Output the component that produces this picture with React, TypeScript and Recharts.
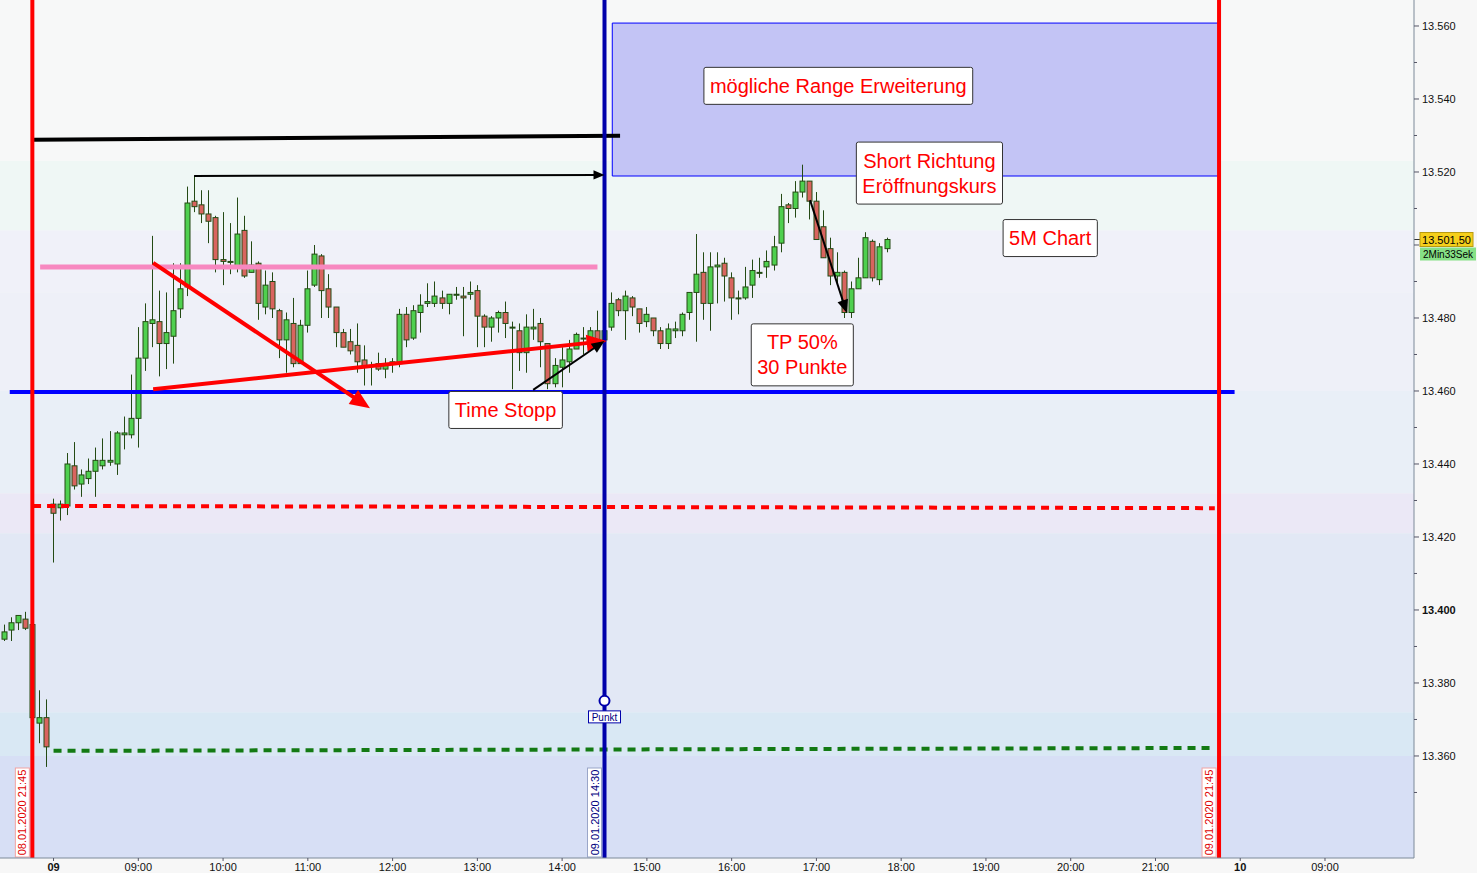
import React from "react";
import { Bar, ComposedChart, ReferenceArea, ReferenceDot, ReferenceLine, XAxis, YAxis } from "recharts";

// 5-minute slots, 0 = 08:00 on 09.01.2020 (night session hidden, 21:45 of day before = -3)
const firstSlot = -7;

const opens = [
  13392, 13394.5, 13396.5, 13397.5, 13396, 13369, 13370.5,
  13429, 13428, 13428.5, 13439.5, 13434.5, 13436, 13438, 13439.5, 13440.5, 13440, 13448, 13448,
  13452.5, 13469, 13478.5, 13479, 13473, 13475, 13482.5, 13488.5, 13512, 13511, 13508.5, 13507.5,
  13496, 13495.5, 13494, 13504, 13492.5, 13495, 13483, 13490, 13482, 13474, 13478.5, 13467.5,
  13478, 13489, 13497, 13488, 13483, 13476, 13473.5, 13472.5, 13468.5, 13467, 13467.5, 13466,
  13467.5, 13467.5, 13481, 13474.5, 13481.5, 13484, 13484, 13485.5, 13484, 13486.5, 13486, 13486.5,
  13487.5, 13480.5, 13477.5, 13480, 13481.5, 13477.5, 13476.5, 13470.5, 13477, 13478.5, 13473, 13462,
  13466.5, 13468, 13471.5, 13474.5, 13474, 13476.5, 13474, 13477.5, 13485, 13482, 13485.5, 13482.5,
  13479, 13480, 13476.5, 13473, 13476.5, 13476.5, 13481.5, 13487, 13492.5, 13484, 13494, 13495,
  13491, 13485.5, 13485.5, 13489, 13492.5, 13494, 13494.5, 13500.5, 13511, 13510, 13514.5, 13517.5,
  13512, 13505, 13499, 13491.5, 13492.5, 13481.5, 13488, 13491, 13501, 13490.5, 13499,
];

const highs = [
  13396, 13398, 13398.5, 13399.5, 13396, 13378, 13375.5,
  13430.5, 13430, 13443, 13446, 13438.5, 13441.5, 13444.5, 13447, 13449, 13449, 13453, 13464.5,
  13477.5, 13484, 13502.5, 13487.5, 13487, 13495, 13495, 13516, 13519, 13515, 13515, 13508,
  13509, 13506, 13513, 13508, 13501, 13495.5, 13493, 13492.5, 13482.5, 13481.5, 13485.5, 13479.5,
  13493, 13500, 13497.5, 13492, 13483, 13477, 13477, 13478.5, 13472.5, 13468, 13470.5, 13469,
  13469, 13482.5, 13483, 13483.5, 13486.5, 13489.5, 13490, 13487.5, 13486.5, 13488.5, 13488.5, 13490,
  13489, 13481, 13480.5, 13482, 13484.5, 13479, 13478.5, 13481, 13482.5, 13480, 13473, 13469,
  13472, 13474, 13476, 13477.5, 13477.5, 13482, 13477.5, 13487, 13485.5, 13487.5, 13486, 13482.5,
  13483, 13480, 13477.5, 13478.5, 13479, 13481.5, 13487, 13503, 13498, 13498, 13498, 13496.5,
  13492.5, 13487.5, 13494, 13496, 13496.5, 13498.5, 13502.5, 13514, 13511.5, 13517.5, 13522, 13517.5,
  13514.5, 13509.5, 13502, 13498, 13493, 13490, 13496.5, 13503.5, 13501.5, 13500.5, 13502,
];

const lows = [
  13391.5, 13391.5, 13394.5, 13394.5, 13370, 13363.5, 13357,
  13413, 13424.5, 13426, 13433, 13431, 13434.5, 13431, 13438.5, 13439.5, 13437, 13444, 13447,
  13444.5, 13465.5, 13472, 13464, 13466, 13467.5, 13480, 13486, 13509, 13506, 13500.5, 13492.5,
  13489, 13492, 13492.5, 13491, 13492.5, 13479.5, 13481, 13480, 13469, 13465, 13466.5, 13467.5,
  13476, 13488.5, 13480, 13480, 13472, 13472, 13470, 13465, 13461.5, 13461.5, 13465.5, 13463.5,
  13465, 13466.5, 13472, 13474, 13476, 13483, 13483, 13482.5, 13481, 13485, 13475, 13485,
  13472, 13472, 13473.5, 13476, 13474.5, 13460.5, 13465.5, 13465, 13474, 13466.5, 13460.5, 13461,
  13461, 13465, 13471.5, 13470, 13473, 13473.5, 13473.5, 13476.5, 13480.5, 13474, 13480.5, 13476,
  13477.5, 13475, 13471.5, 13471.5, 13474.5, 13475, 13479.5, 13473.5, 13479.5, 13476.5, 13484, 13484.5,
  13479.5, 13481, 13485, 13485.5, 13491, 13491, 13493, 13498, 13506, 13507.5, 13513, 13507,
  13501.5, 13496.5, 13489, 13489, 13480, 13480, 13488, 13491, 13490, 13489, 13498,
];

const closes = [
  13394, 13396.5, 13398.5, 13395, 13370.5, 13370.5, 13362.5,
  13426.5, 13429, 13440, 13434, 13437, 13438, 13441, 13441, 13441, 13448.5, 13448.5, 13452.5,
  13469, 13479, 13479.5, 13473, 13476, 13482, 13488, 13511.5, 13510.5, 13508.5, 13506.5, 13496,
  13495.5, 13495.5, 13503, 13491.5, 13494.5, 13484, 13489, 13482.5, 13474, 13479.5, 13467.5, 13478,
  13488, 13497.5, 13487.5, 13483, 13476, 13472, 13471, 13468, 13466.5, 13467, 13466, 13467.5,
  13468, 13481, 13474, 13482, 13483.5, 13484.5, 13486, 13484, 13486.5, 13486.5, 13485.5, 13487,
  13480.5, 13477.5, 13480, 13481.5, 13478.5, 13477.5, 13470.5, 13477.5, 13477.5, 13473.5, 13462, 13467,
  13468.5, 13471.5, 13475.5, 13474.5, 13476.5, 13473.5, 13476.5, 13484, 13482, 13486, 13483, 13478.5,
  13481, 13476.5, 13473, 13477, 13477, 13481, 13487, 13492, 13484, 13494, 13494.5, 13491.5,
  13485.5, 13485.5, 13488.5, 13493, 13492.5, 13495.5, 13499.5, 13510.5, 13510, 13514.5, 13517.5, 13512,
  13501.5, 13496.5, 13491.5, 13492.5, 13481.5, 13488, 13491, 13502, 13491, 13499.5, 13501.5,
];

const xTicks = [0, 12, 24, 36, 48, 60, 72, 84, 96, 108, 120, 132, 144, 156, 168, 180];
const xTickLabels = ["09", "09:00", "10:00", "11:00", "12:00", "13:00", "14:00", "15:00", "16:00", "17:00", "18:00", "19:00", "20:00", "21:00", "10", "09:00"];
const dayStartTicks = [0, 168];

const yTicks = [13350, 13360, 13370, 13380, 13390, 13400, 13410, 13420, 13430, 13440, 13450, 13460, 13470, 13480, 13490, 13500, 13510, 13520, 13530, 13540, 13550, 13560];

const sessionMarks = [
  { slot: -3, label: "08.01.2020 21:45", kind: "red" },
  { slot: 78, label: "09.01.2020 14:30", kind: "blue" },
  { slot: 165, label: "09.01.2020 21:45", kind: "red" },
];

const notes = [
  { slot: 111.1, price: 13543.6, lines: ["mögliche Range Erweiterung"] },
  { slot: 124.0, price: 13519.7, lines: ["Short Richtung", "Eröffnungskurs"] },
  { slot: 141.1, price: 13501.9, lines: ["5M Chart"] },
  { slot: 106.0, price: 13469.9, lines: ["TP 50%", "30 Punkte"] },
  { slot: 64.0, price: 13454.8, lines: ["Time Stopp"] },
];

const punkt = { slot: 78, price: 13375.1, label: "Punkt" };

const countdown = "2Min33Sek";
const lastPrice = closes[closes.length - 1];

const rows = opens.map((o, i) => ({
  slot: firstSlot + i,
  open: o,
  high: highs[i],
  low: lows[i],
  close: closes[i],
  range: [lows[i], highs[i]],
}));

const X_DOMAIN = [-7.58, 192.6];
const Y_DOMAIN = [13332.05, 13567.12];
const FONT = "'Liberation Sans', Arial, sans-serif";

const bands = [
  { y1: 13523, y2: 13567.12, fill: "#f7f8f8" },
  { y1: 13504, y2: 13523, fill: "#eff7f5" },
  { y1: 13487, y2: 13504, fill: "#f0f1f9" },
  { y1: 13460, y2: 13487, fill: "#eef0f8" },
  { y1: 13432, y2: 13460, fill: "#e9eff7" },
  { y1: 13421, y2: 13432, fill: "#ebe8f6" },
  { y1: 13372, y2: 13421, fill: "#e2e8f5" },
  { y1: 13360, y2: 13372, fill: "#d9e8f4" },
  { y1: 13332.05, y2: 13360, fill: "#d7dff5" },
];

let measureCtx: CanvasRenderingContext2D | null = null;
function textWidth(s: string, size: number) {
  if (!measureCtx) measureCtx = document.createElement("canvas").getContext("2d");
  if (!measureCtx) return s.length * size * 0.5;
  measureCtx.font = `${size}px 'Liberation Sans', Arial, sans-serif`;
  return measureCtx.measureText(s).width;
}

function fmtDe(v: number) {
  const [i, d] = v.toFixed(2).split(".");
  return i.slice(0, -3) + "." + i.slice(-3) + "," + d;
}

function Candle(props: any) {
  const { x, y, width, height, payload } = props;
  if (!payload || x == null) return null;
  const { open, close, high, low } = payload;
  const top = Math.min(y, y + height);
  const h = Math.abs(height);
  const pix = (v: number) => (high === low ? top : top + ((high - v) / (high - low)) * h);
  const cx = Math.floor(x + width / 2) + 0.5;
  const yo = pix(open);
  const yc = pix(close);
  const bodyTop = Math.min(yo, yc);
  const bodyH = Math.max(Math.abs(yo - yc), 1);
  const up = close >= open;
  return (
    <g>
      <line x1={cx} x2={cx} y1={top} y2={top + h} stroke="#244a14" strokeWidth={1} />
      <rect x={cx - 2.5} y={bodyTop} width={5} height={bodyH} fill={up ? "#4fd04f" : "#d9645f"} stroke="#244a14" strokeWidth={1} />
    </g>
  );
}

function arrowShape(color: string, w: number, head: number) {
  return (p: any) => {
    const { x1, y1, x2, y2 } = p;
    const ang = Math.atan2(y2 - y1, x2 - x1);
    const hw = head * 0.42;
    const bx = x2 - Math.cos(ang) * head;
    const by = y2 - Math.sin(ang) * head;
    const pts = [
      [x2, y2],
      [bx + Math.sin(ang) * hw, by - Math.cos(ang) * hw],
      [bx - Math.sin(ang) * hw, by + Math.cos(ang) * hw],
    ]
      .map((q) => q.join(","))
      .join(" ");
    return (
      <g>
        <line x1={x1} y1={y1} x2={bx + Math.cos(ang) * 2} y2={by + Math.sin(ang) * 2} stroke={color} strokeWidth={w} />
        <polygon points={pts} fill={color} />
      </g>
    );
  };
}

function sessionShape(label: string, kind: string) {
  return (p: any) => {
    const { x1, y1, y2 } = p;
    const bottom = Math.max(y1, y2);
    const top = Math.min(y1, y2);
    const red = kind === "red";
    const color = red ? "#ff0000" : "#0000aa";
    const bx = x1 - 17;
    return (
      <g>
        <line x1={x1} x2={x1} y1={top} y2={bottom} stroke={color} strokeWidth={4} />
        <rect x={bx} y={bottom - 90} width={14} height={89} fill="#ffffff" stroke={red ? "#f2a3a3" : "#9aa6c8"} strokeWidth={1} />
        <text
          x={bx + 7}
          y={bottom - 45.5}
          transform={`rotate(-90 ${bx + 7} ${bottom - 45.5})`}
          textAnchor="middle"
          dominantBaseline="central"
          fontSize={11}
          fontFamily={FONT}
          fill={red ? "#e00000" : "#000080"}
        >
          {label}
        </text>
      </g>
    );
  };
}

function NoteBox(p: any) {
  const { cx, cy, lines } = p;
  const fs = 20;
  const lh = 25;
  const w = Math.max(...lines.map((l: string) => textWidth(l, fs))) + 12;
  const h = lines.length * lh + 12;
  return (
    <g>
      <rect x={cx - w / 2} y={cy - h / 2} width={w} height={h} rx={2} fill="#ffffff" stroke="#333333" strokeWidth={1} />
      {lines.map((l: string, i: number) => (
        <text
          key={i}
          x={cx}
          y={cy - ((lines.length - 1) * lh) / 2 + i * lh}
          textAnchor="middle"
          dominantBaseline="central"
          fontSize={fs}
          fontFamily={FONT}
          fill="#ff0000"
        >
          {l}
        </text>
      ))}
    </g>
  );
}

function PunktMarker(p: any) {
  const { cx, cy } = p;
  return (
    <g>
      <rect x={cx - 16} y={cy + 10} width={32} height={12} fill="#ffffff" stroke="#0000aa" strokeWidth={1} />
      <text x={cx} y={cy + 16.5} textAnchor="middle" dominantBaseline="central" fontSize={10} fontFamily={FONT} fill="#000080">
        {punkt.label}
      </text>
      <circle cx={cx} cy={cy} r={5} fill="#ffffff" stroke="#0000aa" strokeWidth={2} />
    </g>
  );
}

function LastPriceTag(p: any) {
  const { x2, y1 } = p;
  const x = Math.max(x2, p.x1);
  return (
    <g>
      <line x1={x} x2={x + 6} y1={y1} y2={y1} stroke="#333" strokeWidth={1} />
      <rect x={x + 6} y={y1 - 7} width={53} height={14} fill="#f5cf1c" stroke="#b89a10" strokeWidth={1} />
      <text x={x + 32.5} y={y1} textAnchor="middle" dominantBaseline="central" fontSize={11} fontFamily={FONT} fill="#000">
        {fmtDe(lastPrice)}
      </text>
      <rect x={x + 6} y={y1 + 8} width={56} height={13} fill="#86e086" />
      <text x={x + 34} y={y1 + 14.5} textAnchor="middle" dominantBaseline="central" fontSize={10} fontFamily={FONT} fill="#000">
        {countdown}
      </text>
    </g>
  );
}

function XTick(p: any) {
  const { x, y, payload } = p;
  const i = xTicks.indexOf(payload.value);
  const bold = dayStartTicks.includes(payload.value);
  return (
    <g>
      <line x1={x} x2={x} y1={y} y2={y + 3} stroke="#556" strokeWidth={1} />
      <text x={x} y={y + 9} textAnchor="middle" dominantBaseline="central" fontSize={11} fontWeight={bold ? 700 : 400} fontFamily={FONT} fill="#111">
        {xTickLabels[i]}
      </text>
    </g>
  );
}

function YTick(p: any) {
  const { x, y, payload } = p;
  const v = payload.value;
  const major = v % 20 === 0;
  // the last-price tag covers the label next to it
  const covered = Math.abs(v - lastPrice) < 6;
  return (
    <g>
      <line x1={x} x2={x + (major ? 5 : 3)} y1={y} y2={y} stroke="#556" strokeWidth={1} />
      {major && !covered && (
        <text x={x + 8} y={y} dominantBaseline="central" fontSize={11} fontWeight={v === 13400 ? 700 : 400} fontFamily={FONT} fill="#111">
          {(v / 1000).toFixed(3)}
        </text>
      )}
    </g>
  );
}

export default function App() {
  return (
    <div style={{ position: "absolute", left: 0, top: 0, width: 1477, height: 873, background: "#f7f7f7", fontFamily: FONT }}>
      <ComposedChart width={1477} height={873} data={rows} margin={{ top: 0, right: 0, bottom: 0, left: 0 }}>
        <XAxis
          dataKey="slot"
          type="number"
          domain={X_DOMAIN}
          allowDataOverflow
          ticks={xTicks}
          interval={0}
          height={15}
          tickLine={false}
          tickSize={0}
          tickMargin={0}
          tick={<XTick />}
          axisLine={{ stroke: "#7d8a99" }}
        />
        <YAxis
          orientation="right"
          type="number"
          domain={Y_DOMAIN}
          allowDataOverflow
          ticks={yTicks}
          interval={0}
          width={63}
          tickLine={false}
          tickSize={0}
          tickMargin={0}
          tick={<YTick />}
          axisLine={{ stroke: "#7d8a99" }}
        />
        {bands.map((b, i) => (
          <ReferenceArea key={"b" + i} y1={b.y1} y2={b.y2} fill={b.fill} fillOpacity={1} stroke="none" />
        ))}
        <ReferenceArea x1={79.1} x2={165} y1={13518.9} y2={13560.8} fill="#c3c4f5" fillOpacity={1} stroke="#0000ff" strokeWidth={1} />

        <Bar dataKey="range" shape={<Candle />} barSize={5} isAnimationActive={false} />

        <ReferenceLine segment={[{ x: -1.9, y: 13494 }, { x: 77, y: 13494 }]} stroke="#f788c0" strokeWidth={5} />
        <ReferenceLine segment={[{ x: -6.2, y: 13459.7 }, { x: 167.2, y: 13459.7 }]} stroke="#0000ff" strokeWidth={4} />
        <ReferenceLine segment={[{ x: -2.9, y: 13428.5 }, { x: 164.4, y: 13427.9 }]} stroke="#ff0000" strokeWidth={4} strokeDasharray="8 6" />
        <ReferenceLine segment={[{ x: 0, y: 13361.4 }, { x: 163.8, y: 13362.2 }]} stroke="#137a13" strokeWidth={4} strokeDasharray="8 6" />
        <ReferenceLine segment={[{ x: -2.9, y: 13528.8 }, { x: 80.2, y: 13529.9 }]} stroke="#000000" strokeWidth={4} />

        {sessionMarks.map((m) => (
          <ReferenceLine key={m.label} x={m.slot} shape={sessionShape(m.label, m.kind)} />
        ))}

        <ReferenceLine segment={[{ x: 19.9, y: 13518.9 }, { x: 78, y: 13519.2 }]} shape={arrowShape("#000000", 2, 11)} />
        <ReferenceLine segment={[{ x: 14.1, y: 13495.1 }, { x: 44.8, y: 13455.3 }]} shape={arrowShape("#ff0000", 4, 20)} />
        <ReferenceLine segment={[{ x: 14.1, y: 13460.5 }, { x: 78.3, y: 13473.7 }]} shape={arrowShape("#ff0000", 4, 20)} />
        <ReferenceLine segment={[{ x: 67.9, y: 13460.3 }, { x: 78, y: 13473.7 }]} shape={arrowShape("#000000", 2, 13)} />
        <ReferenceLine segment={[{ x: 107.1, y: 13512.3 }, { x: 112.3, y: 13481.4 }]} shape={arrowShape("#000000", 2, 13)} />

        <ReferenceDot x={punkt.slot} y={punkt.price} r={5} shape={<PunktMarker />} />

        {notes.map((n, i) => (
          <ReferenceDot key={"n" + i} x={n.slot} y={n.price} r={1} shape={<NoteBox lines={n.lines} />} />
        ))}

        <ReferenceLine y={lastPrice} shape={LastPriceTag} />
      </ComposedChart>
    </div>
  );
}
